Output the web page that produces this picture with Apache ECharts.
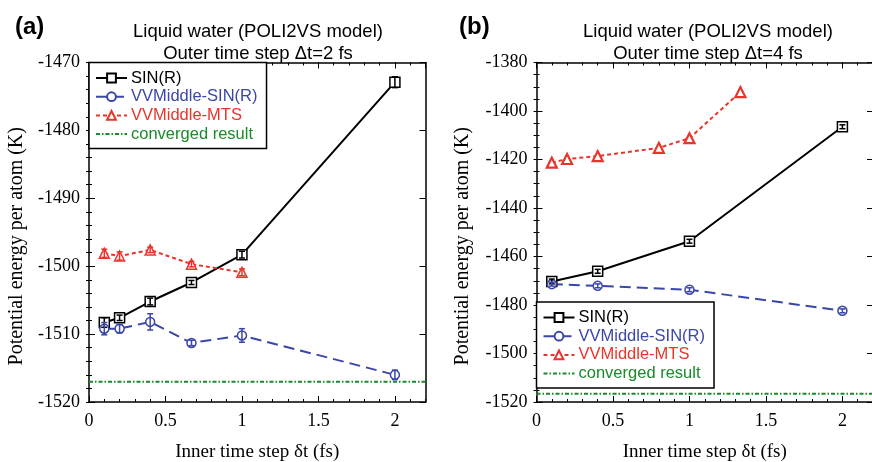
<!DOCTYPE html>
<html>
<head>
<meta charset="utf-8">
<script src="https://cdn.jsdelivr.net/npm/echarts@6/dist/echarts.min.js"></script>
<style>
  html, body { margin: 0; padding: 0; background: #fff; }
  #chart { width: 872px; height: 462px; }
</style>
</head>
<body>
<div id="chart"></div>
<script>
// colours
const BLACK = '#000';
const BLUE = '#3a46a8';
const RED = '#e8352b';
const GREEN = '#1a8a2a';
const SANS = 'Liberation Sans, Arial, sans-serif';
const SERIF = 'Liberation Serif, Times New Roman, serif';

// panel (a): outer step 2 fs
const xA = [0.1, 0.2, 0.4, 0.67, 1, 2];
const sinA = [-1508.3, -1507.6, -1505.2, -1502.4, -1498.3, -1472.9];
const sinAErr = [0.7, 0.4, 0.5, 0.3, 0.5, 0.8];
const vvsA = [-1509.2, -1509.2, -1508.2, -1511.3, -1510.2, -1516.0];
const vvsAErr = [0.9, 0.6, 1.2, 0.4, 1.0, 0.7];
const xMtsA = [0.1, 0.2, 0.4, 0.67, 1];
const mtsA = [-1498.1, -1498.5, -1497.6, -1499.7, -1500.9];
const mtsAErr = [0.6, 0.6, 0.4, 0.4, 0.5];
const convA = -1517.0;

// panel (b): outer step 4 fs
const xB = [0.1, 0.4, 1, 2];
const sinB = [-1470.3, -1466.1, -1453.7, -1406.5];
const sinBErr = [1.0, 0.8, 0.8, 0.8];
const vvsB = [-1471.4, -1472.1, -1473.7, -1482.4];
const vvsBErr = [0.8, 0.8, 0.8, 0.8];
const xMtsB = [0.1, 0.2, 0.4, 0.8, 1, 1.333];
const mtsB = [-1421.3, -1419.8, -1418.6, -1415.2, -1411.2, -1392.2];
const convB = -1516.6;

const convX = [0, 2.2];
const seriesNames = ['SIN(R)', 'VVMiddle-SIN(R)', 'VVMiddle-MTS', 'converged result'];
const nameColors = [BLACK, BLUE, RED, GREEN];
const titleLines = ['Liquid water (POLI2VS model)', 'Outer time step \u0394t=2 fs', 'Outer time step \u0394t=4 fs'];
const xName = 'Inner time step \u03b4t (fs)';
const yName = 'Potential energy per atom (K)';

const zip = (xs, ys) => xs.map((x, i) => [x, ys[i]]);
const zip3 = (xs, ys, es) => xs.map((x, i) => [x, ys[i], es[i]]);

// four x axes and four y axes for a panel: labelled majors + unlabelled minors, mirrored on top/right
function panelAxes(g, yMin, yMax, yMajor, yMinor, yGap) {
  const lineStyle = { color: BLACK, width: 1.5 };
  const base = { gridIndex: g, type: 'value', splitLine: { show: false } };
  const xBase = Object.assign({}, base, { min: 0, max: 2.2 });
  const yBase = Object.assign({}, base, { min: yMin, max: yMax });
  const major = (extra) => Object.assign({
    axisLine: { onZero: false, lineStyle },
    axisTick: { inside: true, length: 6, lineStyle: { color: BLACK, width: 1 } }
  }, extra);
  const minor = (extra) => Object.assign({
    axisLine: { show: false },
    axisLabel: { show: false },
    axisTick: { inside: true, length: 3, lineStyle: { color: BLACK, width: 1 } }
  }, extra);
  const tickLabel = { fontFamily: SERIF, fontSize: 18, color: BLACK };
  const xAxes = [
    Object.assign({}, xBase, major({
      position: 'bottom', interval: 0.5,
      axisLabel: Object.assign({ showMaxLabel: false, margin: 10 }, tickLabel),
      name: xName, nameLocation: 'middle', nameGap: 41,
      nameTextStyle: { fontFamily: SERIF, fontSize: 19, color: BLACK }
    })),
    Object.assign({}, xBase, minor({ position: 'bottom', interval: 0.1 })),
    Object.assign({}, xBase, major({ position: 'top', interval: 0.5, axisLabel: { show: false } })),
    Object.assign({}, xBase, minor({ position: 'top', interval: 0.1 }))
  ];
  const yAxes = [
    Object.assign({}, yBase, major({
      position: 'left', interval: yMajor,
      axisLabel: Object.assign({ margin: 9, formatter: (v) => String(v) }, tickLabel),
      name: yName, nameLocation: 'middle', nameGap: yGap, nameRotate: 90,
      nameTextStyle: { fontFamily: SERIF, fontSize: 20, color: BLACK, padding: [0, 28, 0, 0] }
    })),
    Object.assign({}, yBase, minor({ position: 'left', interval: yMinor })),
    Object.assign({}, yBase, major({ position: 'right', interval: yMajor, axisLabel: { show: false } })),
    Object.assign({}, yBase, minor({ position: 'right', interval: yMinor }))
  ];
  return { xAxes, yAxes };
}

const axA = panelAxes(0, -1520, -1470, 10, 2, 62);
const axB = panelAxes(1, -1520, -1380, 20, 5, 64);

function lineSeries(name, data, color, symbol, size, dash, width, ax, borderW) {
  return {
    name, type: 'line', data,
    xAxisIndex: ax, yAxisIndex: ax,
    symbol, symbolSize: size,
    color,
    lineStyle: { color, width, type: dash },
    itemStyle: { color: '#fff', borderColor: color, borderWidth: borderW || 1.5 },
    emphasis: { disabled: true },
    z: 3
  };
}

function errSeries(data, color, ax) {
  return {
    name: 'err', type: 'custom', data,
    xAxisIndex: ax, yAxisIndex: ax,
    z: 4, silent: true,
    renderItem: (params, api) => {
      const x = api.value(0), y = api.value(1), e = api.value(2);
      const hi = api.coord([x, y + e]);
      const lo = api.coord([x, y - e]);
      const w = 3;
      const st = { stroke: color, lineWidth: 1.5 };
      return {
        type: 'group',
        children: [
          { type: 'line', shape: { x1: hi[0], y1: hi[1], x2: lo[0], y2: lo[1] }, style: st },
          { type: 'line', shape: { x1: hi[0] - w, y1: hi[1], x2: hi[0] + w, y2: hi[1] }, style: st },
          { type: 'line', shape: { x1: lo[0] - w, y1: lo[1], x2: lo[0] + w, y2: lo[1] }, style: st }
        ]
      };
    }
  };
}

function convSeries(y, ax) {
  return {
    name: 'converged result', type: 'line', data: zip(convX, [y, y]),
    xAxisIndex: ax, yAxisIndex: ax, symbol: 'none', color: GREEN,
    lineStyle: { color: GREEN, width: 2, type: [4, 2, 1.5, 2] },
    emphasis: { disabled: true }, z: 2
  };
}

function legendFor(left, top) {
  return {
    orient: 'vertical', left, top,
    data: seriesNames.map((n, i) => {
      const item = { name: n, textStyle: { color: nameColors[i] } };
      if (n === 'converged result') {
        item.itemStyle = { color: 'rgba(0,0,0,0)', borderColor: 'rgba(0,0,0,0)', opacity: 0 };
      }
      return item;
    }),
    itemWidth: 31, itemHeight: 11, itemGap: 1.7,
    padding: [7, 9, 6, 6],
    borderColor: BLACK, borderWidth: 1.5, borderRadius: 0,
    backgroundColor: '#fff',
    selectedMode: false,
    textStyle: { fontFamily: SANS, fontSize: 16.5, lineHeight: 17, padding: [0, 0, 0, -1] },
    z: 10
  };
}

const chart = echarts.init(document.getElementById('chart'), null, { renderer: 'canvas' });

const titleStyle = { fontFamily: SANS, fontSize: 18.5, fontWeight: 'normal', color: BLACK, lineHeight: 22 };
const option = {
  backgroundColor: '#fff',
  animation: false,
  title: [
    { text: '(a)', left: 10, top: 10, textStyle: { fontFamily: SANS, fontSize: 24, fontWeight: 'bold', color: BLACK } },
    { text: '(b)', left: 454, top: 10, textStyle: { fontFamily: SANS, fontSize: 24, fontWeight: 'bold', color: BLACK } },
    { text: titleLines[0] + '\n' + titleLines[1], left: 253, top: 16, textAlign: 'center', textStyle: titleStyle },
    { text: titleLines[0] + '\n' + titleLines[2], left: 703, top: 16, textAlign: 'center', textStyle: titleStyle }
  ],
  legend: [legendFor(89, 62.5), legendFor(536.5, 302)],
  grid: [
    { left: 89, top: 62.5, width: 336.5, height: 339.5, outerBoundsMode: 'none', containLabel: false },
    { left: 536.5, top: 62.5, width: 336.5, height: 339.5, outerBoundsMode: 'none', containLabel: false }
  ],
  xAxis: axA.xAxes.concat(axB.xAxes),
  yAxis: axA.yAxes.concat(axB.yAxes),
  series: [
    convSeries(convA, 0),
    lineSeries('SIN(R)', zip(xA, sinA), BLACK, 'rect', 10, 'solid', 2, 0),
    lineSeries('VVMiddle-SIN(R)', zip(xA, vvsA), BLUE, 'circle', 9, [11, 6], 2, 0),
    lineSeries('VVMiddle-MTS', zip(xMtsA, mtsA), RED, 'triangle', 10, [4, 3], 2, 0),
    errSeries(zip3(xA, sinA, sinAErr), BLACK, 0),
    errSeries(zip3(xA, vvsA, vvsAErr), BLUE, 0),
    errSeries(zip3(xMtsA, mtsA, mtsAErr), RED, 0),

    convSeries(convB, 4),
    lineSeries('SIN(R)', zip(xB, sinB), BLACK, 'rect', 10, 'solid', 2, 4),
    lineSeries('VVMiddle-SIN(R)', zip(xB, vvsB), BLUE, 'circle', 9, [11, 6], 2, 4),
    lineSeries('VVMiddle-MTS', zip(xMtsB, mtsB), RED, 'triangle', 10, [4, 3], 2, 4, 2.2),
    errSeries(zip3(xB, sinB, sinBErr), BLACK, 4),
    errSeries(zip3(xB, vvsB, vvsBErr), BLUE, 4)
  ]
};

chart.setOption(option);
</script>
</body>
</html>
